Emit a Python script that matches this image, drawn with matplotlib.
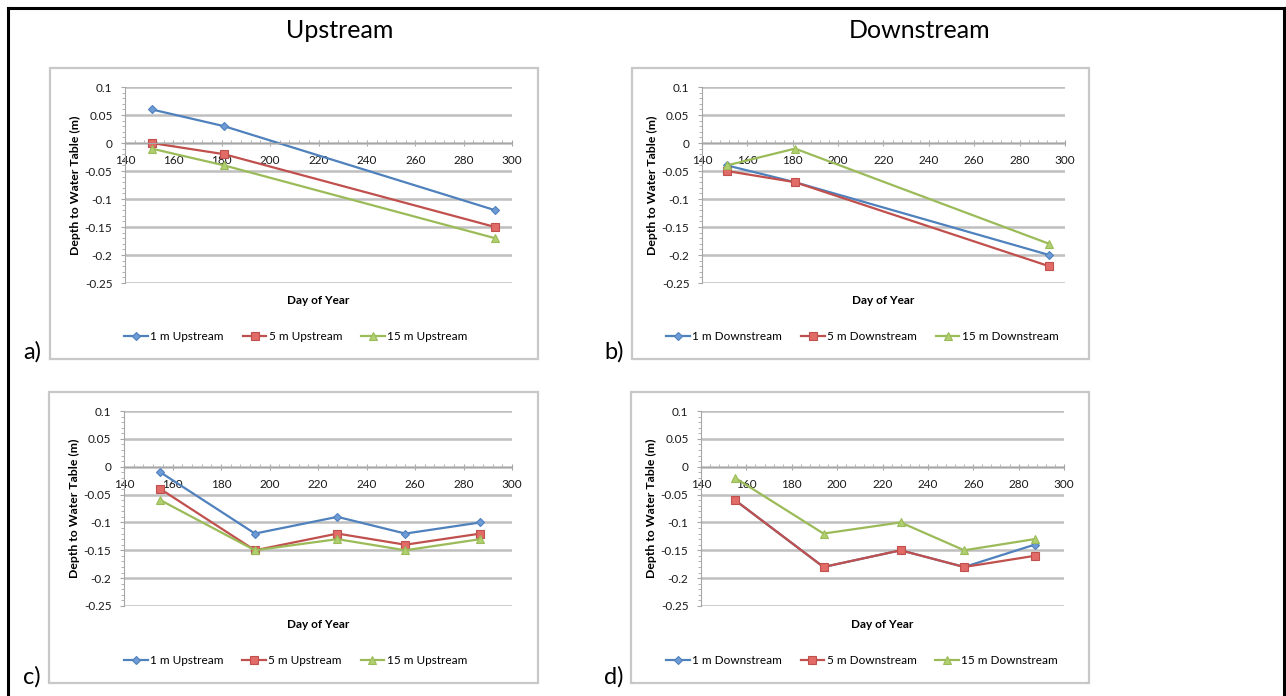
import matplotlib.pyplot as plt
from matplotlib.patches import Rectangle
from matplotlib.lines import Line2D
from matplotlib.ticker import MultipleLocator

plt.rcParams['font.family'] = ['Lato', 'DejaVu Sans']

# survey days
days_top = [151, 181, 293]
days_bottom = [155, 194, 228, 256, 287]

# a) upstream, first season
a_1m = [0.06, 0.03, -0.12]
a_5m = [0.0, -0.02, -0.15]
a_15m = [-0.01, -0.04, -0.17]

# b) downstream, first season
b_1m = [-0.04, -0.07, -0.20]
b_5m = [-0.05, -0.07, -0.22]
b_15m = [-0.04, -0.01, -0.18]

# c) upstream, second season
c_1m = [-0.01, -0.12, -0.09, -0.12, -0.10]
c_5m = [-0.04, -0.15, -0.12, -0.14, -0.12]
c_15m = [-0.06, -0.15, -0.13, -0.15, -0.13]

# d) downstream, second season
d_1m = [-0.06, -0.18, -0.15, -0.18, -0.14]
d_5m = [-0.06, -0.18, -0.15, -0.18, -0.16]
d_15m = [-0.02, -0.12, -0.10, -0.15, -0.13]

COLORS = ["#4f81bd", "#c0504d", "#9bbb59"]
FACES = ["#6e9bd6", "#e06b67", "#b0d070"]
MARKERS = ["D", "s", "^"]
MSIZES = [4.5, 5.5, 5.5]

W, H = 1286, 696
fig = plt.figure(figsize=(W / 100, H / 100), dpi=100)


def fx(px):
    return px / W


def fy(py):
    return 1 - py / H


# outer frame (bottom cut off)
for xs, ys in [([8, 8], [8, 696]), ([8, 1284], [8, 8]), ([1284, 1284], [8, 696])]:
    fig.add_artist(Line2D([fx(x) for x in xs], [fy(y) for y in ys],
                          transform=fig.transFigure, color="black", lw=2.2))

fig.text(fx(340), fy(30), "Upstream", ha="center", va="center", fontsize=18)
fig.text(fx(920), fy(30), "Downstream", ha="center", va="center", fontsize=18)

panels = [
    # label, days, series, names, box(px), axes(px), letter pos
    ("a)", days_top, [a_1m, a_5m, a_15m], "Upstream",
     (50, 68, 538, 359), (125, 87, 512, 283), (32, 352)),
    ("b)", days_top, [b_1m, b_5m, b_15m], "Downstream",
     (632, 68, 1089, 359), (702, 87, 1065, 283), (614, 352)),
    ("c)", days_bottom, [c_1m, c_5m, c_15m], "Upstream",
     (49, 392, 538, 683), (124, 411, 512, 606), (32, 677)),
    ("d)", days_bottom, [d_1m, d_5m, d_15m], "Downstream",
     (631, 392, 1089, 683), (701, 411, 1064, 606), (614, 677)),
]

for letter, days, series, where, box, axpx, lpos in panels:
    # chart box
    x0, y0, x1, y1 = box
    fig.add_artist(Rectangle((fx(x0), fy(y1)), fx(x1 - x0), (y1 - y0) / H,
                             transform=fig.transFigure, fill=False,
                             edgecolor="#c8c8c8", lw=1.6))
    fig.text(fx(lpos[0]), fy(lpos[1]), letter, ha="center", va="center",
             fontsize=17)

    l, t, r, b = axpx
    ax = fig.add_axes([fx(l), fy(b), fx(r - l), (b - t) / H])
    ax.set_xlim(140, 300)
    ax.set_ylim(-0.25, 0.1)
    ax.set_yticks([0.1, 0.05, 0, -0.05, -0.1, -0.15, -0.2, -0.25])
    ax.set_yticklabels(["0.1", "0.05", "0", "-0.05", "-0.1", "-0.15",
                        "-0.2", "-0.25"])
    ax.set_xticks(range(140, 301, 20))
    ax.xaxis.set_minor_locator(MultipleLocator(4))
    ax.yaxis.set_minor_locator(MultipleLocator(0.01))
    ax.grid(axis="y", color="#bfbfbf", lw=1.8)
    ax.set_axisbelow(True)
    for s in ["top", "right"]:
        ax.spines[s].set_visible(False)
    ax.spines["bottom"].set_position(("data", 0))
    ax.spines["bottom"].set_color("#a6a6a6")
    ax.spines["left"].set_color("#a6a6a6")
    ax.tick_params(axis="both", which="both", colors="#a6a6a6",
                   labelcolor="#1a1a1a", labelsize=8.5)
    ax.tick_params(axis="x", which="major", direction="inout", length=5, pad=6)
    ax.tick_params(axis="x", which="minor", direction="in", length=2)
    ax.tick_params(axis="y", which="major", direction="out", length=3, pad=6)
    ax.tick_params(axis="y", which="minor", direction="out", length=2)

    for k, vals in enumerate(series):
        dist = ["1 m", "5 m", "15 m"][k]
        ax.plot(days, vals, color=COLORS[k], lw=1.6, marker=MARKERS[k],
                ms=MSIZES[k], mfc=FACES[k], mec=COLORS[k], mew=0.8,
                label=f"{dist} {where}", clip_on=False)

    ax.set_ylabel("Depth to Water Table (m)", fontsize=8.8, fontweight="bold",
                  labelpad=3)
    ax.set_xlabel("Day of Year", fontsize=8.5, fontweight="bold")
    ax.xaxis.set_label_coords(0.5, -(208 - (b - t)) / (b - t))

    ax.legend(loc="center", bbox_to_anchor=(fx((x0 + x1) / 2 + 2),
                                            fy(y1 - 22)),
              bbox_transform=fig.transFigure, ncol=3, frameon=False,
              fontsize=8.5, handlelength=2.0, columnspacing=1.6,
              handletextpad=0.2)

fig.savefig("out.png", dpi=100)
